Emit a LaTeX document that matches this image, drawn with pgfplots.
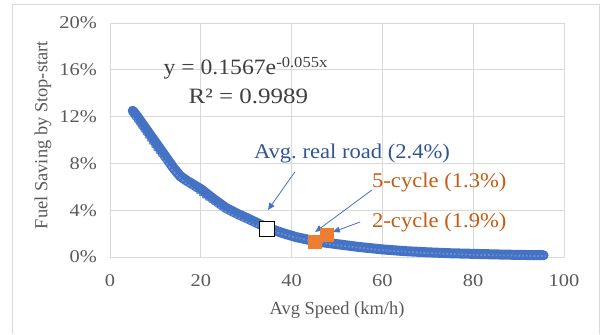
\documentclass[border=0pt]{standalone}
\usepackage{pgfplots}
\pgfplotsset{compat=1.18}
\usetikzlibrary{arrows.meta}
\usepackage{fontspec}
\setmainfont{Liberation Serif}
\newfontfamily\wide{Liberation Serif}[FakeStretch=1.08]
\newfontfamily\tickf{Liberation Serif}[FakeStretch=1.14]
\definecolor{cblue}{HTML}{4472C4}
\definecolor{tblue}{HTML}{2F5597}
\definecolor{corange}{HTML}{ED7D31}
\definecolor{torange}{HTML}{C55A11}
\definecolor{cgrid}{HTML}{D9D9D9}
\definecolor{ctext}{HTML}{595959}
\definecolor{ceq}{HTML}{404040}
\begin{document}
\begin{tikzpicture}[x=1bp,y=1bp]
\useasboundingbox (0,0) rectangle (602,334);
\draw[cgrid, line width=0.8bp] (12,0) -- (12,330) -- (599,330) -- (599,0);
\begin{axis}[
  at={(110bp,77bp)}, anchor=south west,
  scale only axis, width=454bp, height=234bp,
  xmin=0, xmax=100, ymin=0, ymax=20,
  xtick={0,20,...,100}, ytick={0,4,...,20},
  yticklabel={\pgfmathprintnumber{\tick}\%},
  /pgf/number format/assume math mode=true,
  tick style={draw=none},
  grid=major, major grid style={cgrid, line width=0.8bp},
  axis line style={cgrid, line width=0.8bp},
  tick label style={font=\tickf\fontsize{18}{20}\selectfont, text=ctext, inner sep=0pt},
  xticklabel style={anchor=north, yshift=-17bp},
  yticklabel style={anchor=east, xshift=-13bp},
  xlabel={Avg Speed (km/h)}, ylabel={Fuel Saving by Stop-start},
  label style={font=\fontsize{18.5}{20}\selectfont, text=ctext, inner sep=0pt},
  xlabel style={at={(axis description cs:0.5,-0.2436)}, anchor=base},
  ylabel style={at={(axis description cs:-0.1476,0.521)}, anchor=center},
  clip=false,
]
\addplot[cblue, line width=10bp, line join=round, line cap=round] coordinates {
(5.0,12.5) (6,12.0) (8,10.9) (10,9.8) (12,8.7) (14,7.6) (15.5,6.9) (17,6.5)
(20,5.8) (23,4.9) (25.5,4.2) (28,3.7) (30,3.35) (33,2.8) (35,2.45) (38,2.05)
(41,1.7) (44,1.45) (47,1.25) (50,1.1) (55,0.85) (60,0.65) (65,0.5) (70,0.4)
(75,0.32) (80,0.27) (85,0.22) (90,0.18) (95.5,0.15)};
\addplot[only marks, mark=square*, mark size=7.5bp, mark options={draw=black, fill=white, line width=1.2bp}] coordinates {(34.5,2.4)};
\addplot[only marks, mark=square*, mark size=6.5bp, mark options={draw=corange, fill=corange}] coordinates {(47.7,1.9)};
\addplot[only marks, mark=square*, mark size=6.5bp, mark options={draw=corange, fill=corange}] coordinates {(45.0,1.35)};
\addplot[cblue!80!white, line width=1.8bp, dotted] coordinates {
(5,11.90) (10,9.04) (15,6.87) (20,5.22) (25,3.96) (30,3.01) (35,2.29) (40,1.74)
(45,1.32) (50,1.00) (60,0.58) (70,0.33) (80,0.19) (90,0.11) (96,0.08)};
\node[anchor=base, text=ceq, font=\wide\fontsize{22}{24}\selectfont, inner sep=0pt] at (axis cs:29.9,15.56) {y = 0.1567e\textsuperscript{-0.055x}};
\node[anchor=base, text=ceq, font=\tickf\fontsize{22}{24}\selectfont, inner sep=0pt] at (axis cs:30.5,13.16) {R² = 0.9989};
\node[anchor=base, text=tblue, font=\wide\fontsize{21}{24}\selectfont, inner sep=0pt] at (axis cs:53.3,8.46) {Avg.\ real road (2.4\%)};
\node[anchor=base west, text=torange, font=\wide\fontsize{21}{24}\selectfont, inner sep=0pt] at (axis cs:57.7,5.98) {5-cycle (1.3\%)};
\node[anchor=base west, text=torange, font=\wide\fontsize{21}{24}\selectfont, inner sep=0pt] at (axis cs:57.7,2.48) {2-cycle (1.9\%)};
\draw[cblue, line width=0.8bp, -{Triangle[length=7bp,width=6bp]}] (axis cs:40.7,7.26) -- (axis cs:34.8,4.02);
\draw[cblue, line width=0.8bp, -{Triangle[length=7bp,width=6bp]}] (axis cs:57.7,5.73) -- (axis cs:45.2,2.14);
\draw[cblue, line width=0.8bp, -{Triangle[length=7bp,width=6bp]}] (axis cs:55.1,2.99) -- (axis cs:49.1,2.14);
\end{axis}
\end{tikzpicture}
\end{document}
